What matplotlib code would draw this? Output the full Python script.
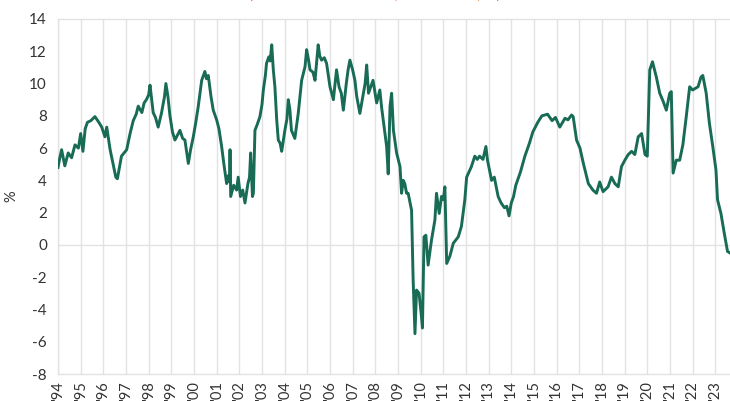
import matplotlib
matplotlib.use("Agg")
import matplotlib.pyplot as plt

# decimal year and growth value (%)
dates = [
    1994.00, 1994.08, 1994.16, 1994.30, 1994.45, 1994.60, 1994.75, 1994.90, 1995.00, 1995.10,
    1995.20, 1995.30, 1995.45, 1995.63, 1995.80, 1995.93, 1996.07, 1996.15, 1996.30, 1996.45,
    1996.55, 1996.62, 1996.80, 1997.03, 1997.18, 1997.32, 1997.45, 1997.54, 1997.70, 1997.80,
    1997.90, 1998.00, 1998.06, 1998.20, 1998.30, 1998.42, 1998.57, 1998.70, 1998.76, 1998.85,
    1998.94, 1999.05, 1999.16, 1999.38, 1999.50, 1999.60, 1999.75, 1999.85, 1999.97, 2000.08,
    2000.19, 2000.34, 2000.48, 2000.55, 2000.63, 2000.75, 2000.85, 2001.00, 2001.10, 2001.22,
    2001.32, 2001.44, 2001.52, 2001.57, 2001.59, 2001.62, 2001.75, 2001.88, 2001.95, 2002.05,
    2002.15, 2002.25, 2002.38, 2002.45, 2002.50, 2002.58, 2002.62, 2002.69, 2002.80, 2002.91,
    2003.00, 2003.06, 2003.15, 2003.20, 2003.30, 2003.36, 2003.43, 2003.50, 2003.57, 2003.65,
    2003.72, 2003.80, 2003.87, 2004.01, 2004.10, 2004.16, 2004.23, 2004.30, 2004.45, 2004.60,
    2004.75, 2004.90, 2004.97, 2005.05, 2005.12, 2005.25, 2005.34, 2005.42, 2005.48, 2005.55,
    2005.63, 2005.75, 2005.85, 2006.00, 2006.15, 2006.22, 2006.29, 2006.40, 2006.50, 2006.59,
    2006.72, 2006.80, 2006.88, 2007.00, 2007.10, 2007.18, 2007.32, 2007.45, 2007.55, 2007.62,
    2007.70, 2007.80, 2007.90, 2008.06, 2008.20, 2008.28, 2008.35, 2008.50, 2008.57, 2008.65,
    2008.72, 2008.80, 2008.94, 2009.09, 2009.16, 2009.23, 2009.30, 2009.38, 2009.45, 2009.55,
    2009.60, 2009.67, 2009.75, 2009.82, 2009.93, 2010.02, 2010.08, 2010.15, 2010.23, 2010.33,
    2010.48, 2010.63, 2010.70, 2010.82, 2010.92, 2011.00, 2011.07, 2011.15, 2011.29, 2011.44,
    2011.55, 2011.66, 2011.80, 2011.95, 2012.03, 2012.24, 2012.39, 2012.50, 2012.60, 2012.75,
    2012.88, 2012.95, 2013.13, 2013.25, 2013.42, 2013.55, 2013.70, 2013.80, 2013.90, 2014.00,
    2014.10, 2014.20, 2014.40, 2014.60, 2014.80, 2014.95, 2015.17, 2015.35, 2015.60, 2015.80,
    2015.95, 2016.14, 2016.37, 2016.50, 2016.66, 2016.73, 2016.88, 2017.03, 2017.18, 2017.40,
    2017.60, 2017.76, 2017.90, 2018.05, 2018.27, 2018.42, 2018.57, 2018.72, 2018.86, 2019.01,
    2019.16, 2019.31, 2019.45, 2019.60, 2019.75, 2019.90, 2020.00, 2020.11, 2020.23, 2020.40,
    2020.55, 2020.70, 2020.84, 2020.99, 2021.06, 2021.14, 2021.28, 2021.43, 2021.57, 2021.72,
    2021.87, 2022.00, 2022.24, 2022.37, 2022.45, 2022.60, 2022.74, 2022.89, 2023.03, 2023.10,
    2023.25, 2023.40, 2023.54, 2023.65,
]
values = [
    4.8, 5.4, 5.9, 4.9, 5.7, 5.4, 6.2, 6.0, 6.9, 5.8,
    7.2, 7.6, 7.7, 7.95, 7.6, 7.3, 6.7, 7.3, 5.9, 4.9,
    4.2, 4.1, 5.5, 5.9, 6.9, 7.7, 8.1, 8.6, 8.2, 8.8,
    9.0, 9.3, 9.9, 8.2, 7.9, 7.3, 8.2, 9.2, 10.0, 9.2,
    8.0, 7.0, 6.5, 7.1, 6.6, 6.5, 5.05, 5.9, 6.7, 7.6,
    8.6, 10.2, 10.75, 10.3, 10.5, 9.2, 8.35, 7.75, 7.2, 6.1,
    5.0, 3.8, 4.3, 3.9, 5.9, 3.0, 3.7, 3.4, 4.2, 3.0,
    3.4, 2.6, 3.8, 4.2, 5.7, 3.0, 3.2, 7.1, 7.5, 7.95,
    8.7, 9.6, 10.5, 11.25, 11.65, 11.4, 12.4, 10.85, 9.8, 7.75,
    6.5, 6.3, 5.8, 7.1, 7.8, 9.0, 8.4, 7.1, 6.6, 8.15,
    10.2, 11.05, 12.1, 11.5, 10.85, 10.7, 10.2, 11.5, 12.4, 11.7,
    11.45, 11.6, 11.25, 9.8, 9.0, 9.9, 10.85, 9.8, 9.4, 8.35,
    10.0, 10.85, 11.45, 10.85, 10.2, 9.2, 8.15, 9.2, 10.0, 11.15,
    9.4, 9.8, 10.2, 8.8, 9.6, 8.5, 7.75, 6.1, 4.4, 8.6,
    9.4, 7.1, 5.7, 4.85, 3.2, 4.0, 3.8, 3.2, 3.2, 2.5,
    2.15, -2.2, -5.5, -2.8, -3.0, -4.2, -5.15, 0.5, 0.6, -1.25,
    0.3, 1.55, 3.2, 1.95, 3.0, 2.8, 3.6, -1.15, -0.7, 0.1,
    0.3, 0.5, 1.15, 2.8, 4.2, 4.85, 5.5, 5.3, 5.5, 5.3,
    6.1, 5.25, 4.0, 4.2, 3.0, 2.6, 2.3, 2.4, 1.8, 2.6,
    3.0, 3.7, 4.5, 5.5, 6.3, 7.0, 7.6, 8.0, 8.1, 7.7,
    7.9, 7.3, 7.85, 7.75, 8.05, 7.95, 6.5, 6.0, 5.05, 3.8,
    3.4, 3.2, 3.9, 3.3, 3.6, 4.2, 3.8, 3.6, 4.85, 5.25,
    5.6, 5.8, 5.6, 6.7, 6.9, 5.6, 5.5, 10.85, 11.35, 10.4,
    9.4, 8.9, 8.35, 9.4, 9.5, 4.45, 5.25, 5.25, 6.2, 7.95,
    9.8, 9.6, 9.8, 10.4, 10.5, 9.4, 7.55, 6.1, 4.65, 2.8,
    1.95, 0.7, -0.4, -0.5,
]
year_ticks = list(range(1994, 2024))
year_labels = ["'" + str(y)[2:] for y in year_ticks]
y_ticks = list(range(-8, 15, 2))

FONT = "Lato"
plt.rcParams["font.family"] = [FONT, "DejaVu Sans"]

fig = plt.figure(figsize=(7.30, 4.01), dpi=100)
ax = fig.add_axes([58 / 730, 1 - 374 / 401, 1 - 58 / 730, (374 - 19) / 401])

grid_c = "#e2e2e2"
ax.plot(dates, values, color="#186b55", lw=2.1, solid_joinstyle="round", zorder=3)

ax.set_xlim(1994, 2023.65)
ax.set_ylim(-8, 14)
ax.set_xticks(year_ticks)
ax.set_xticklabels(year_labels, rotation=90, fontsize=10.5, color="#333333")
ax.set_yticks(y_ticks)
ax.set_yticklabels([str(v) for v in y_ticks], fontsize=11, color="#333333")
ax.tick_params(axis="y", length=0, pad=8)
ax.tick_params(axis="x", length=0, pad=5)

ax.grid(axis="x", color=grid_c, lw=1.0, zorder=0)
ax.axhline(0, color=grid_c, lw=1.0, zorder=1)
ax.axhline(14, color=grid_c, lw=1.0, zorder=1, clip_on=False)
for side in ["top", "right"]:
    ax.spines[side].set_visible(False)
for side in ["left", "bottom"]:
    ax.spines[side].set_color(grid_c)
    ax.spines[side].set_linewidth(1.0)

ax.set_ylabel("%", fontsize=10.5, color="#333333", labelpad=8)

fig.text(375 / 730, 1 + 1.0 / 401, "(All commercial banks, annual rate, %)", color="#e8692e",
         fontsize=11, ha="center", va="baseline")

fig.savefig("out.png", dpi=100)
